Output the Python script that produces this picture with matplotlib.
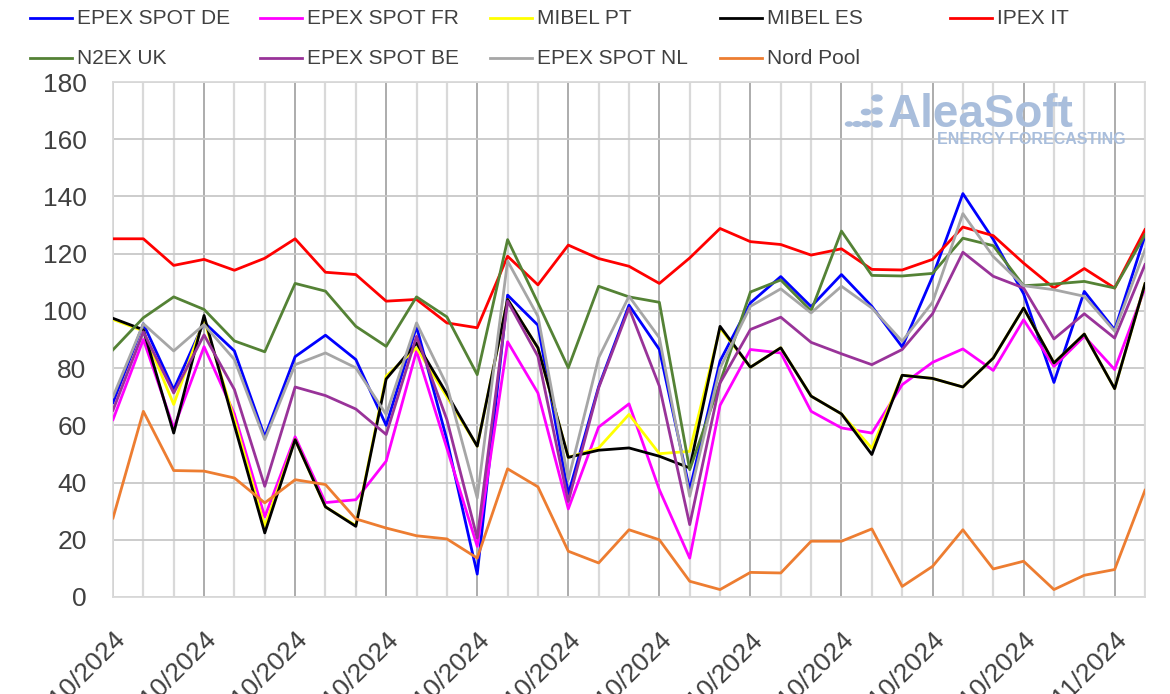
import pandas as pd
import matplotlib
matplotlib.use("Agg")
import matplotlib.pyplot as plt
import matplotlib.dates as mdates
from matplotlib.lines import Line2D
from matplotlib.patches import Circle

plt.rcParams['font.family'] = ['Liberation Sans', 'DejaVu Sans']

# =========================
# DATA
# =========================
dates = pd.date_range('2024-10-01', '2024-11-04', freq='D')

epex_de = [68, 95.5, 72.5, 96, 86, 56, 84, 91.5, 83, 60, 94.5, 55, 8, 105.5, 95, 36, 73.5, 102,
           86.5, 37.5, 82.5, 102.8, 112, 101.5, 112.7, 101.6, 87.4, 112, 141, 125, 106, 75, 106.8, 93.4, 126.3]
epex_fr = [62, 90, 59, 87.5, 64, 28, 56, 33, 34, 47.5, 86, 52, 17.7, 89.2, 71.3, 30.8, 59.4, 67.5,
           37.5, 13.6, 67, 86.5, 85.3, 64.9, 59.1, 57.3, 74.2, 82, 86.7, 79.2, 96.9, 80.6, 91.1, 79.5, 108]
mibel_pt = [97, 93, 67.3, 97, 62, 24.7, 55, 31.5, 25, 77.2, 87.1, 70, 52.7, 104, 87, 48.8, 52.1, 63.8,
            50.1, 50.9, 94, 80.3, 87.1, 70.2, 64, 52, 77.5, 76.4, 73.4, 83.5, 101, 81.8, 91.9, 72.8, 109.5]
mibel_es = [97.4, 93.4, 57.3, 98.4, 60, 22.4, 55, 31.5, 24.7, 76.2, 88.8, 71, 52.7, 104, 87.1, 48.8, 51.3, 52.1,
            49.2, 45.1, 94.6, 80.3, 87.1, 70.2, 64, 49.8, 77.5, 76.4, 73.4, 83.5, 101, 81.8, 91.9, 72.8, 109.5]
ipex_it = [125.2, 125.2, 115.9, 118, 114.2, 118.4, 125.2, 113.5, 112.7, 103.4, 104, 95.8, 94.1, 119.1, 109.1, 123,
           118.3, 115.6, 109.6, 118.5, 128.8, 124.2, 123.2, 119.5, 121.7, 114.5, 114.3, 118, 129.3, 126.3, 116.7,
           108, 114.8, 108, 128.4]
n2ex_uk = [86.4, 97.6, 104.9, 100.5, 89.5, 85.7, 109.6, 106.9, 94.6, 87.6, 104.9, 97.9, 77.7, 124.9, 102.8, 80.1,
           108.6, 104.9, 103, 44.5, 75, 106.6, 110.8, 100, 127.9, 112.4, 112.2, 113.1, 125.4, 122.8, 108.8, 109.4,
           110.3, 108, 126.6]
epex_be = [65.3, 92.7, 71.3, 91.6, 72.5, 38.7, 73.4, 70.4, 65.7, 56.8, 91.1, 62, 20.6, 103.4, 84.1, 33.4, 73.1, 101,
           73.7, 25.3, 74.8, 93.5, 97.8, 89, 85, 81.2, 86.5, 99, 120.5, 112.1, 108, 90.2, 99, 90.5, 116.2]
epex_nl = [70, 95.5, 86, 95.2, 83, 55, 81.2, 85.3, 80.1, 63.8, 95.8, 74, 34.6, 117.4, 98.1, 41, 83.6, 105.1,
           90.6, 35.2, 80, 101.6, 107.7, 99.3, 108.6, 101, 89.4, 103, 134, 119, 108.8, 107.4, 105.1, 92.9, 121.4]
nord_pool = [27.6, 64.9, 44.2, 44, 41.6, 32.9, 41, 39.3, 27.3, 24.1, 21.4, 20.3, 13.6, 44.8, 38.5, 16, 11.9, 23.5,
             20, 5.5, 2.6, 8.6, 8.4, 19.5, 19.5, 23.8, 3.7, 10.7, 23.5, 9.8, 12.5, 2.6, 7.6, 9.6, 37.3]

series = [
    ('EPEX SPOT DE', epex_de, '#0000ff'),
    ('EPEX SPOT FR', epex_fr, '#ff00ff'),
    ('MIBEL PT', mibel_pt, '#ffff00'),
    ('MIBEL ES', mibel_es, '#000000'),
    ('IPEX IT', ipex_it, '#ff0000'),
    ('N2EX UK', n2ex_uk, '#548235'),
    ('EPEX SPOT BE', epex_be, '#993399'),
    ('EPEX SPOT NL', epex_nl, '#a6a6a6'),
    ('Nord Pool', nord_pool, '#ed7d31'),
]

# =========================
# FIGURE
# =========================
fig = plt.figure(figsize=(11.7, 6.94), dpi=100)
ax = fig.add_axes([113 / 1170, 1 - 597 / 694, (1145 - 113) / 1170, (597 - 82) / 694])

for name, vals, col in series:
    ax.plot(dates, vals, color=col, lw=2.0, label=name, zorder=3)

ax.set_xlim(dates[0], dates[-1])
ax.set_ylim(0, 180)
ax.set_yticks(range(0, 181, 20))
ax.set_xticks(dates[::3])
ax.set_xticks(dates, minor=True)
ax.xaxis.set_major_formatter(mdates.DateFormatter('%d/%m/%Y'))

ax.grid(axis='y', color='#c8c8c8', lw=1.3, zorder=0)
ax.grid(axis='x', which='major', color='#a6a6a6', lw=1.3, zorder=0)
ax.grid(axis='x', which='minor', color='#d9d9d9', lw=1.6, zorder=0)
ax.set_axisbelow(True)

for sp in ax.spines.values():
    sp.set_color('#d9d9d9')
    sp.set_linewidth(1.3)

ax.tick_params(axis='both', which='both', length=0, labelsize=19, colors='#404040')
ax.tick_params(axis='y', pad=19)
ax.tick_params(axis='x', pad=22)
for lab in ax.get_xticklabels():
    lab.set_rotation(45)
    lab.set_ha('right')
    lab.set_va('top')
    lab.set_rotation_mode('anchor')

# legend drawn by hand, two rows of five
col_x = [30, 260, 490, 720, 950]
row_y = [18, 58]
for i, (name, vals, col) in enumerate(series):
    r, c = divmod(i, 5)
    x0 = col_x[c] / 1170
    y0 = 1 - row_y[r] / 694
    fig.add_artist(Line2D([x0, x0 + 42 / 1170], [y0, y0], color=col, lw=2, transform=fig.transFigure))
    fig.text(x0 + 47 / 1170, y0, name, fontsize=15, color='#404040', va='center', ha='left')

# watermark
wm = '#a9bedc'
for cx, cy, rr in [(849, 124, 3.5), (857, 124, 4), (866, 124, 4.5), (877, 124, 5),
                   (866, 112, 4.5), (877, 111, 5), (877, 98, 5)]:
    fig.add_artist(Circle((cx / 1170, 1 - cy / 694), rr / 1170, color=wm, transform=fig.transFigure, zorder=5))
fig.text(888 / 1170, 1 - 127 / 694, 'AleaSoft', fontsize=33, fontweight='bold', color=wm, ha='left', va='baseline')
fig.text(937 / 1170, 1 - 144 / 694, 'ENERGY FORECASTING', fontsize=11.5, fontweight='bold', color=wm,
         ha='left', va='baseline')

fig.savefig('out.png', dpi=100)
